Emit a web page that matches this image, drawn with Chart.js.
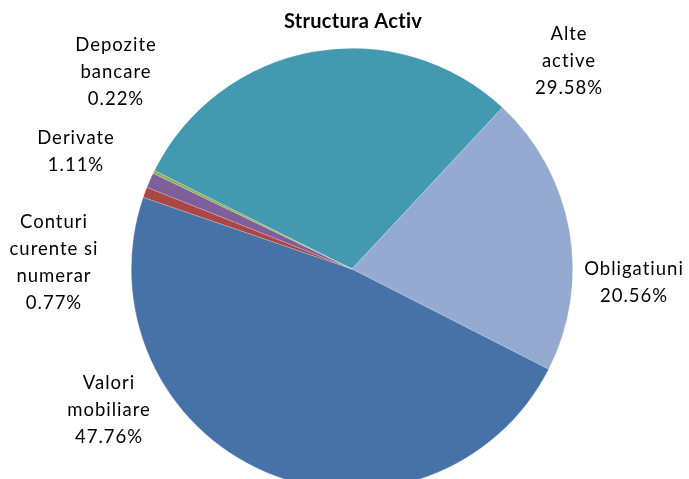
<!DOCTYPE html>
<html>
<head>
<meta charset="utf-8">
<title>Structura Activ</title>
<script src="https://cdn.jsdelivr.net/npm/chart.js@4/dist/chart.umd.min.js"></script>
<style>
  html, body { margin: 0; padding: 0; background: #fff; overflow: hidden; }
  canvas { display: block; }
</style>
</head>
<body>
<canvas id="pie" width="689" height="500"></canvas>
<script>
// Data
const categories = ['Alte active', 'Obligatiuni', 'Valori mobiliare', 'Conturi curente si numerar', 'Derivate', 'Depozite bancare'];
const shares = [29.58, 20.56, 47.76, 0.77, 1.11, 0.22];
// How each label wraps in the picture
const labelLines = [
  ['Alte', 'active'],
  ['Obligatiuni'],
  ['Valori', 'mobiliare'],
  ['Conturi', 'curente si', 'numerar'],
  ['Derivate'],
  ['Depozite', 'bancare']
];
const sliceColors = ['#4299B0', '#95AAD0', '#4672A8', '#AA4643', '#7E5F9B', '#8DB04F'];

// Where Excel put the label blocks (center x, first line y)
const labelAnchors = [
  [569, 34], [634, 269], [109, 383], [54, 222], [76, 138], [116, 45]
];

const FONT = 'Lato, Calibri, "Liberation Sans", sans-serif';

// Draw the title and the outside labels
const labelPlugin = {
  id: 'pieLabels',
  afterDraw(chart) {
    const c = chart.ctx;
    c.save();
    c.fillStyle = '#000';
    c.textAlign = 'center';
    c.textBaseline = 'middle';

    c.font = 'bold 20px ' + FONT;
    c.letterSpacing = '0.3px';
    c.fillText('Structura Activ', 353, 22);

    c.font = '18.5px ' + FONT;
    c.letterSpacing = '1px';
    const lineH = 27;
    labelLines.forEach((lines, i) => {
      const [x, y] = labelAnchors[i];
      const all = lines.concat([shares[i].toFixed(2) + '%']);
      all.forEach((t, k) => c.fillText(t, x, y + k * lineH));
    });
    c.restore();
  }
};

const ctx = document.getElementById('pie').getContext('2d');
new Chart(ctx, {
  type: 'pie',
  data: {
    labels: categories,
    datasets: [{
      data: shares,
      backgroundColor: sliceColors,
      borderColor: 'rgba(255,255,255,0.4)',
      borderWidth: 0.5
    }]
  },
  options: {
    responsive: false,
    animation: false,
    rotation: -63.5,
    layout: { padding: { left: 131, right: 116, top: 48, bottom: 10 } },
    plugins: {
      legend: { display: false },
      tooltip: { enabled: false },
      title: { display: false }
    }
  },
  plugins: [labelPlugin]
});
</script>
</body>
</html>
